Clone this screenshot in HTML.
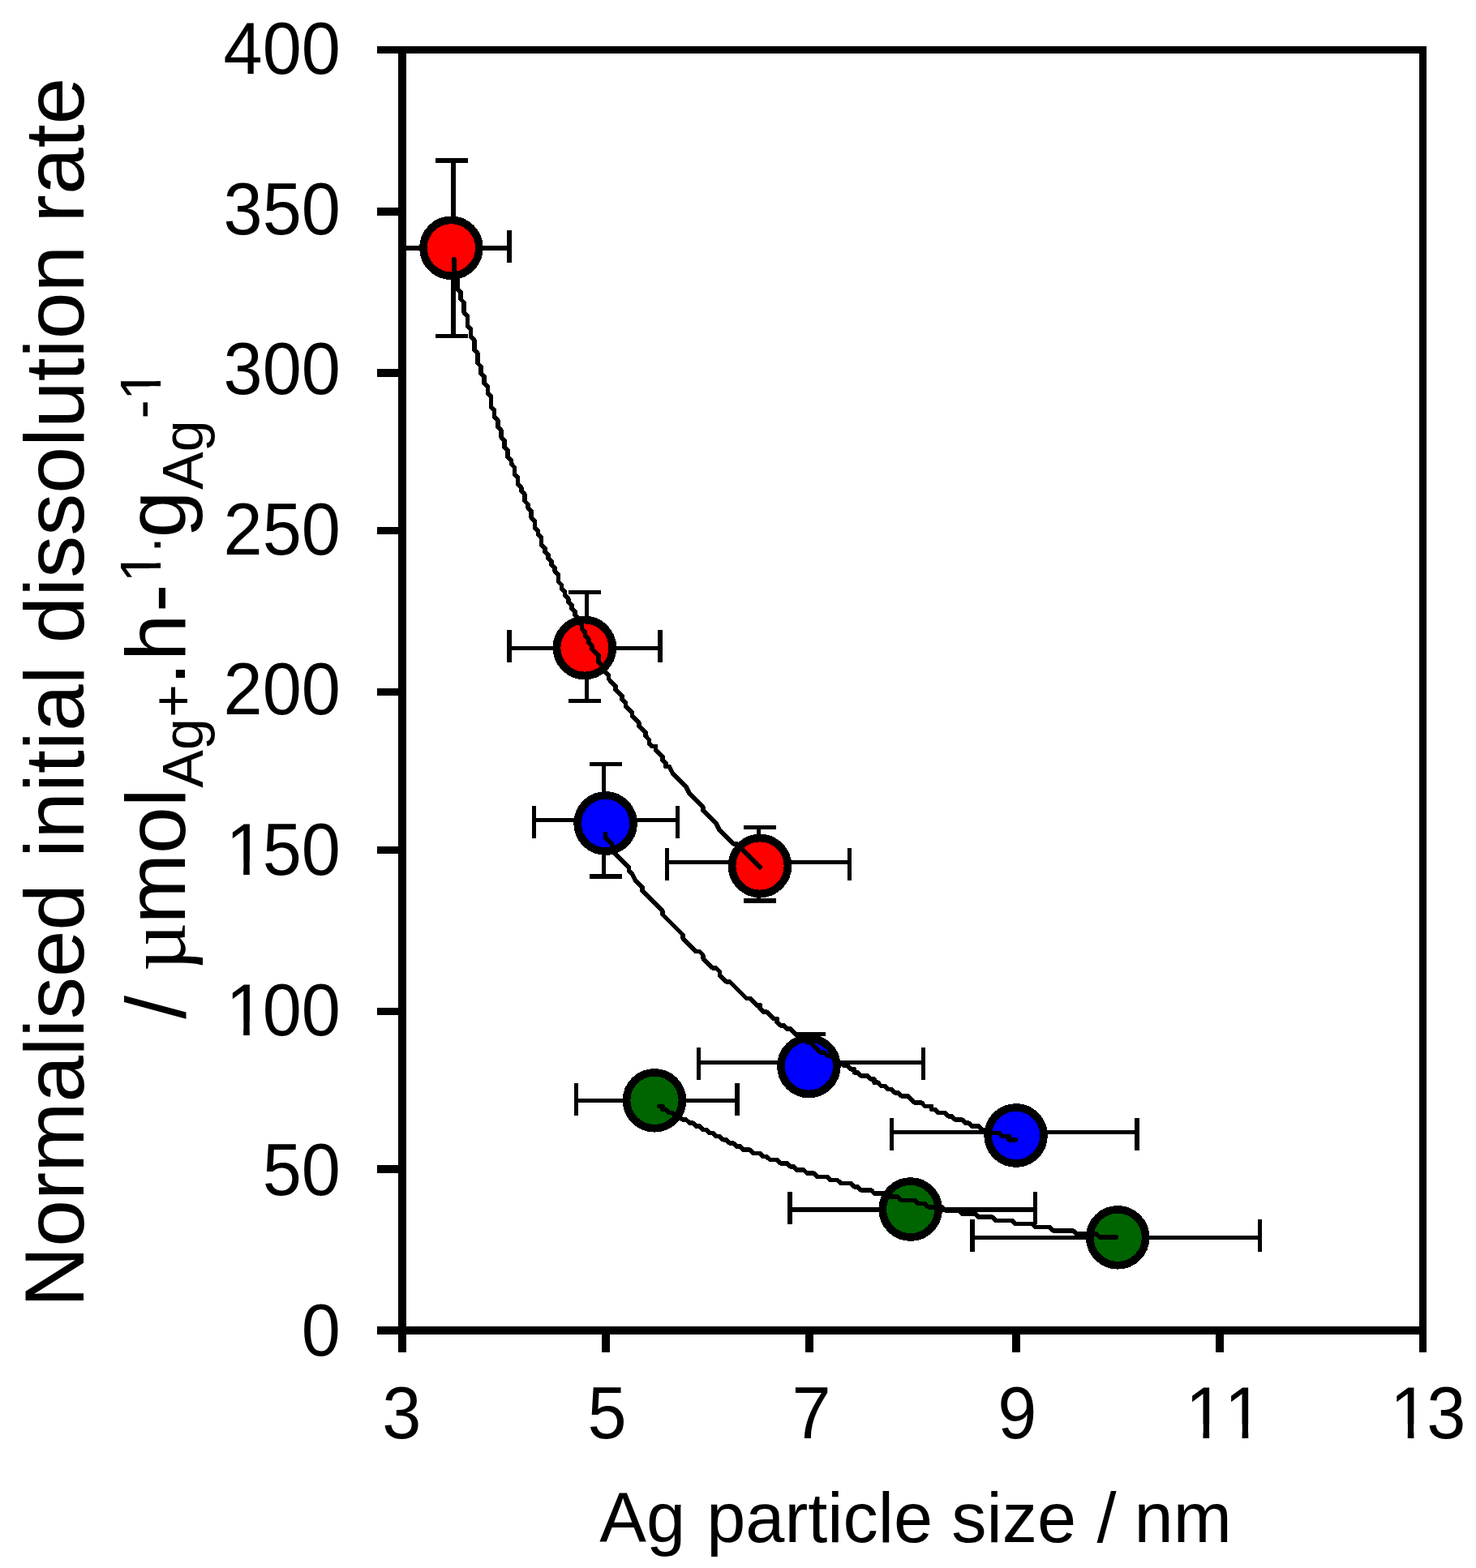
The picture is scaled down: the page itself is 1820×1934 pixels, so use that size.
<!DOCTYPE html>
<html lang="en">
<head>
<meta charset="utf-8">
<title>Normalised initial dissolution rate vs Ag particle size</title>
<style>
html,body{margin:0;padding:0;background:#fff;}
body{width:1820px;height:1934px;overflow:hidden;}
svg{display:block;}
svg{font-family:"Liberation Sans",Arial,Helvetica,sans-serif;}
text{fill:#000;}
</style>
</head>
<body>
<svg width="1820" height="1934" viewBox="0 0 1820 1934">
<defs>
<clipPath id="c1"><path clip-rule="evenodd" d="M-20 -86.5H164.321533203125V34.6H-20ZM8.32 -16.89H24.58V0.84H8.32ZM32.23 -16.89H47.60V0.84H32.23Z"/></clipPath>
<clipPath id="c2"><path clip-rule="evenodd" d="M-20 -86.5H164.321533203125V34.6H-20ZM8.32 -16.89H24.58V0.84H8.32ZM32.23 -16.89H47.60V0.84H32.23Z"/></clipPath>
<clipPath id="c3"><path clip-rule="evenodd" d="M-20 -86.5H116.21435546875V34.6H-20ZM8.32 -16.89H24.58V0.84H8.32ZM32.23 -16.89H47.60V0.84H32.23ZM56.43 -16.89H72.69V0.84H56.43ZM80.33 -16.89H95.71V0.84H80.33Z"/></clipPath>
<clipPath id="c4"><path clip-rule="evenodd" d="M-20 -86.5H116.21435546875V34.6H-20ZM8.32 -16.89H24.58V0.84H8.32ZM32.23 -16.89H47.60V0.84H32.23Z"/></clipPath>
<clipPath id="c5"><path clip-rule="evenodd" d="M-2000 -50H50V500H-2000ZM-713.97 184.33H-700.81V198.68H-713.97ZM-694.62 184.33H-682.18V198.68H-694.62ZM-489.46 184.33H-476.30V198.68H-489.46ZM-470.11 184.33H-457.67V198.68H-470.11Z"/></clipPath>
</defs>
<rect x="0" y="0" width="1820" height="1934" fill="#ffffff"/>
<g id="errorbars" shape-rendering="crispEdges">
<rect x="556" y="195" width="6" height="222" fill="#000"/>
<rect x="537" y="195" width="40" height="6" fill="#000"/>
<rect x="537" y="412" width="40" height="5" fill="#000"/>
<rect x="496" y="303" width="135" height="6" fill="#000"/>
<rect x="625" y="284" width="6" height="40" fill="#000"/>
<rect x="721" y="728" width="5" height="139" fill="#000"/>
<rect x="701" y="728" width="40" height="5" fill="#000"/>
<rect x="701" y="862" width="40" height="5" fill="#000"/>
<rect x="625" y="797" width="192" height="5" fill="#000"/>
<rect x="625" y="777" width="6" height="40" fill="#000"/>
<rect x="811" y="777" width="6" height="40" fill="#000"/>
<rect x="933" y="1018" width="5" height="96" fill="#000"/>
<rect x="917" y="1018" width="40" height="5" fill="#000"/>
<rect x="917" y="1108" width="40" height="6" fill="#000"/>
<rect x="820" y="1061" width="230" height="5" fill="#000"/>
<rect x="820" y="1046" width="5" height="40" fill="#000"/>
<rect x="1045" y="1046" width="5" height="40" fill="#000"/>
<rect x="742" y="940" width="5" height="144" fill="#000"/>
<rect x="727" y="940" width="40" height="5" fill="#000"/>
<rect x="727" y="1078" width="40" height="6" fill="#000"/>
<rect x="656" y="1009" width="182" height="5" fill="#000"/>
<rect x="656" y="994" width="5" height="40" fill="#000"/>
<rect x="833" y="994" width="5" height="40" fill="#000"/>
<rect x="979" y="1273" width="39" height="5" fill="#000"/>
<rect x="859" y="1308" width="282" height="5" fill="#000"/>
<rect x="859" y="1292" width="5" height="40" fill="#000"/>
<rect x="1136" y="1292" width="5" height="40" fill="#000"/>
<rect x="1097" y="1394" width="308" height="5" fill="#000"/>
<rect x="1097" y="1379" width="5" height="40" fill="#000"/>
<rect x="1399" y="1379" width="6" height="40" fill="#000"/>
<rect x="708" y="1355" width="204" height="5" fill="#000"/>
<rect x="708" y="1336" width="5" height="40" fill="#000"/>
<rect x="906" y="1336" width="6" height="40" fill="#000"/>
<rect x="971" y="1489" width="308" height="6" fill="#000"/>
<rect x="971" y="1470" width="6" height="40" fill="#000"/>
<rect x="1274" y="1470" width="5" height="40" fill="#000"/>
<rect x="1196" y="1524" width="360" height="5" fill="#000"/>
<rect x="1196" y="1504" width="6" height="40" fill="#000"/>
<rect x="1551" y="1504" width="5" height="40" fill="#000"/>
</g>
<g id="axes" shape-rendering="crispEdges">
<rect x="491" y="57" width="10" height="1611" fill="#000"/>
<rect x="1750" y="57" width="9" height="1611" fill="#000"/>
<rect x="465" y="57" width="1294" height="9" fill="#000"/>
<rect x="465" y="1636" width="1294" height="10" fill="#000"/>
<rect x="465" y="256" width="31" height="10" fill="#000"/>
<rect x="465" y="455" width="31" height="10" fill="#000"/>
<rect x="465" y="650" width="31" height="9" fill="#000"/>
<rect x="465" y="849" width="31" height="9" fill="#000"/>
<rect x="465" y="1044" width="31" height="9" fill="#000"/>
<rect x="465" y="1243" width="31" height="9" fill="#000"/>
<rect x="465" y="1437" width="31" height="10" fill="#000"/>
<rect x="742" y="1640" width="10" height="28" fill="#000"/>
<rect x="993" y="1640" width="10" height="28" fill="#000"/>
<rect x="1248" y="1640" width="10" height="28" fill="#000"/>
<rect x="1499" y="1640" width="10" height="28" fill="#000"/>
</g>
<g id="markers" stroke="#000" stroke-width="9.7" shape-rendering="crispEdges">
<circle cx="556.4" cy="305.8" r="34.45" fill="#ff0000"/>
<circle cx="720.9" cy="799" r="34.45" fill="#ff0000"/>
<circle cx="937" cy="1068" r="34.45" fill="#ff0000"/>
<circle cx="746.6" cy="1015.5" r="34.45" fill="#0000ff"/>
<circle cx="997.4" cy="1315" r="34.45" fill="#0000ff"/>
<circle cx="1252.6" cy="1400.5" r="34.45" fill="#0000ff"/>
<circle cx="807" cy="1357.3" r="34.45" fill="#006400"/>
<circle cx="1122.7" cy="1491.5" r="34.45" fill="#006400"/>
<circle cx="1378.2" cy="1526.3" r="34.45" fill="#006400"/>
</g>
<g id="trend" shape-rendering="crispEdges" fill="none" stroke="#000" stroke-width="5.6" stroke-linecap="round" stroke-linejoin="round">
<path d="M559.8 319.3 L559.8 323.4 L559.8 327.6 L559.8 331.7 L559.8 335.9 L559.8 340.0 L564.0 344.2 L564.0 348.3 L564.0 352.5 L564.0 356.6 L568.1 360.8 L568.1 364.9 L568.1 369.1 L572.2 373.2 L572.2 377.3 L572.2 381.5 L572.2 385.6 L576.4 389.8 L576.4 393.9 L576.4 398.1 L576.4 402.2 L580.5 406.4 L580.5 410.5 L580.5 414.7 L584.7 418.8 L584.7 423.0 L584.7 427.1 L584.7 431.3 L588.8 435.4 L588.8 439.6 L588.8 443.7 L588.8 447.8 L593.0 452.0 L593.0 456.1 L593.0 460.3 L597.1 464.4 L597.1 468.6 L597.1 472.7 L601.3 476.9 L601.3 481.0 L601.3 485.2 L605.4 489.3 L605.4 493.5 L605.4 497.6 L605.4 501.8 L609.6 505.9 L609.6 510.0 L609.6 514.2 L613.7 518.3 L613.7 522.5 L613.7 526.6 L617.9 530.8 L617.9 534.9 L617.9 539.1 L622.0 543.2 L622.0 547.4 L622.0 551.5 L626.2 555.7 L626.2 559.8 L626.2 564.0 L630.3 568.1 L630.3 572.2 L634.4 576.4 L634.4 580.5 L634.4 584.7 L638.6 588.8 L638.6 593.0 L638.6 597.1 L642.7 601.3 L642.7 605.4 L646.9 609.6 L646.9 613.7 L646.9 617.9 L651.0 622.0 L651.0 626.2 L655.2 630.3 L655.2 634.4 L655.2 638.6 L659.3 642.7 L659.3 646.9 L659.3 651.0 L663.5 655.2 L663.5 659.3 L667.6 663.5 L667.6 667.6 L667.6 671.8 L671.8 675.9 L671.8 680.1 L675.9 684.2 L675.9 688.4 L680.1 692.5 L680.1 696.6 L684.2 700.8 L684.2 704.9 L688.4 709.1 L688.4 713.2 L688.4 717.4 L692.5 721.5 L692.5 725.7 L696.6 729.8 L696.6 734.0 L700.8 738.1 L700.8 742.3 L704.9 746.4 L704.9 750.6 L709.1 754.7 L709.1 758.8 L713.2 763.0 L713.2 767.1 L717.4 771.3 L717.4 775.4 L721.5 779.6 L721.5 783.7 L725.7 787.9 L725.7 792.0 L729.8 796.2 L729.8 800.3 L734.0 804.5 L738.1 808.6 L738.1 816.9 L742.3 821.0 L746.4 825.2 L746.4 829.3 L750.6 833.5 L750.6 837.6 L754.7 841.8 L758.8 845.9 L758.8 850.1 L763.0 854.2 L767.1 858.4 L767.1 862.5 L771.3 866.7 L771.3 870.8 L775.4 875.0 L779.6 879.1 L779.6 883.2 L783.7 887.4 L787.9 891.5 L787.9 895.7 L792.0 899.8 L796.2 904.0 L796.2 908.1 L800.3 912.3 L800.3 916.4 L804.5 920.6 L808.6 920.6 L808.6 924.7 L812.8 928.9 L816.9 933.0 L816.9 937.2 L821.0 941.3 L821.0 945.4 L825.2 945.4 L829.3 953.7 L833.5 957.9 L837.6 962.0 L841.8 966.2 L845.9 970.3 L850.1 978.6 L854.2 982.8 L858.4 986.9 L862.5 991.1 L866.7 995.2 L866.7 999.4 L870.8 1003.5 L875.0 1007.6 L879.1 1011.8 L883.2 1015.9 L887.4 1024.2 L891.5 1028.4 L895.7 1032.5 L899.8 1036.7 L904.0 1040.8 L908.1 1040.8 L912.3 1045.0 L916.4 1049.1 L920.6 1053.3 L924.7 1057.4 L928.9 1061.6 L933.0 1065.7 L937.2 1069.8"/>
<path d="M746.4 1028.4 L746.4 1032.5 L750.6 1036.7 L754.7 1040.8 L754.7 1045.0 L758.8 1049.1 L758.8 1053.3 L763.0 1057.4 L767.1 1061.6 L771.3 1065.7 L775.4 1069.8 L775.4 1074.0 L779.6 1078.1 L783.7 1086.4 L787.9 1090.6 L792.0 1094.7 L792.0 1098.9 L796.2 1103.0 L800.3 1107.2 L804.5 1111.3 L808.6 1115.5 L812.8 1119.6 L816.9 1123.8 L816.9 1127.9 L821.0 1132.0 L825.2 1136.2 L829.3 1140.3 L833.5 1144.5 L837.6 1148.6 L841.8 1152.8 L841.8 1156.9 L845.9 1161.1 L850.1 1165.2 L854.2 1169.4 L858.4 1173.5 L862.5 1173.5 L866.7 1177.7 L866.7 1181.8 L870.8 1186.0 L875.0 1190.1 L879.1 1194.2 L883.2 1194.2 L887.4 1198.4 L887.4 1202.5 L891.5 1206.7 L895.7 1210.8 L899.8 1210.8 L904.0 1215.0 L908.1 1219.1 L912.3 1223.3 L916.4 1227.4 L920.6 1231.6 L924.7 1231.6 L928.9 1235.7 L933.0 1239.9 L937.2 1239.9 L937.2 1244.0 L941.3 1248.2 L945.4 1248.2 L949.6 1252.3 L953.7 1256.5 L957.9 1256.5 L957.9 1260.6 L962.0 1264.7 L966.2 1264.7 L970.3 1268.9 L974.5 1268.9 L978.6 1273.0 L982.8 1277.2 L986.9 1281.3 L991.1 1281.3 L995.2 1285.5 L999.4 1285.5 L1003.5 1289.6 L1007.6 1293.8 L1011.8 1297.9 L1015.9 1297.9 L1020.1 1302.1 L1024.2 1302.1 L1028.4 1306.2 L1032.5 1310.4 L1036.7 1310.4 L1040.8 1314.5 L1045.0 1314.5 L1049.1 1318.7 L1053.3 1318.7 L1053.3 1322.8 L1057.4 1322.8 L1061.6 1326.9 L1065.7 1326.9 L1069.8 1326.9 L1074.0 1331.1 L1078.1 1331.1 L1078.1 1335.2 L1082.3 1335.2 L1086.4 1339.4 L1090.6 1339.4 L1094.7 1343.5 L1098.9 1343.5 L1103.0 1347.7 L1107.2 1347.7 L1111.3 1351.8 L1115.5 1351.8 L1119.6 1351.8 L1123.8 1356.0 L1127.9 1360.1 L1132.0 1360.1 L1136.2 1360.1 L1140.3 1364.3 L1144.5 1364.3 L1148.6 1364.3 L1148.6 1368.4 L1152.8 1368.4 L1156.9 1372.6 L1161.1 1372.6 L1165.2 1372.6 L1169.4 1376.7 L1173.5 1376.7 L1177.7 1380.9 L1181.8 1380.9 L1186.0 1380.9 L1190.1 1385.0 L1194.2 1385.0 L1198.4 1389.1 L1202.5 1389.1 L1206.7 1389.1 L1210.8 1393.3 L1215.0 1393.3 L1219.1 1393.3 L1223.3 1397.4 L1227.4 1397.4 L1231.6 1397.4 L1235.7 1401.6 L1239.9 1401.6 L1244.0 1401.6 L1244.0 1405.7 L1248.2 1405.7 L1252.3 1405.7"/>
<path d="M812.8 1364.3 L816.9 1364.3 L816.9 1368.4 L821.0 1368.4 L825.2 1372.6 L829.3 1372.6 L833.5 1376.7 L837.6 1376.7 L841.8 1380.9 L845.9 1380.9 L850.1 1385.0 L854.2 1385.0 L858.4 1389.1 L862.5 1389.1 L866.7 1393.3 L870.8 1393.3 L875.0 1397.4 L879.1 1397.4 L883.2 1401.6 L887.4 1401.6 L891.5 1405.7 L895.7 1405.7 L899.8 1409.9 L904.0 1409.9 L908.1 1414.0 L912.3 1414.0 L916.4 1418.2 L920.6 1418.2 L924.7 1418.2 L928.9 1422.3 L933.0 1422.3 L937.2 1422.3 L941.3 1426.5 L945.4 1426.5 L949.6 1430.6 L953.7 1430.6 L957.9 1430.6 L962.0 1434.8 L966.2 1434.8 L970.3 1434.8 L974.5 1438.9 L978.6 1438.9 L982.8 1443.1 L986.9 1443.1 L991.1 1443.1 L995.2 1447.2 L999.4 1447.2 L1003.5 1447.2 L1007.6 1451.3 L1011.8 1451.3 L1015.9 1451.3 L1020.1 1451.3 L1024.2 1455.5 L1028.4 1455.5 L1032.5 1455.5 L1036.7 1459.6 L1040.8 1459.6 L1045.0 1459.6 L1049.1 1459.6 L1053.3 1463.8 L1057.4 1463.8 L1061.6 1467.9 L1065.7 1467.9 L1069.8 1467.9 L1074.0 1467.9 L1078.1 1472.1 L1082.3 1472.1 L1086.4 1472.1 L1090.6 1472.1 L1094.7 1476.2 L1098.9 1476.2 L1103.0 1476.2 L1107.2 1476.2 L1111.3 1480.4 L1115.5 1480.4 L1119.6 1480.4 L1123.8 1480.4 L1127.9 1480.4 L1132.0 1484.5 L1136.2 1484.5 L1140.3 1484.5 L1144.5 1488.7 L1148.6 1488.7 L1152.8 1488.7 L1156.9 1488.7 L1161.1 1488.7 L1165.2 1492.8 L1169.4 1492.8 L1173.5 1492.8 L1177.7 1492.8 L1181.8 1492.8 L1186.0 1497.0 L1190.1 1497.0 L1194.2 1497.0 L1198.4 1497.0 L1202.5 1497.0 L1206.7 1501.1 L1210.8 1501.1 L1215.0 1501.1 L1219.1 1501.1 L1223.3 1501.1 L1227.4 1505.3 L1231.6 1505.3 L1235.7 1505.3 L1239.9 1505.3 L1244.0 1505.3 L1248.2 1505.3 L1252.3 1509.4 L1256.5 1509.4 L1260.6 1509.4 L1264.7 1509.4 L1268.9 1509.4 L1273.0 1509.4 L1277.2 1513.5 L1281.3 1513.5 L1285.5 1513.5 L1289.6 1513.5 L1293.8 1513.5 L1297.9 1517.7 L1302.1 1517.7 L1306.2 1517.7 L1310.4 1517.7 L1314.5 1517.7 L1318.7 1517.7 L1322.8 1517.7 L1326.9 1521.8 L1331.1 1521.8 L1335.2 1521.8 L1339.4 1521.8 L1343.5 1521.8 L1347.7 1521.8 L1351.8 1521.8 L1356.0 1526.0 L1360.1 1526.0 L1364.3 1526.0 L1368.4 1526.0 L1372.6 1526.0 L1376.7 1526.0"/>
</g>
<g id="ytick-labels">
<g transform="translate(275.58 91.00) scale(1 1.04)"><text x="0.00 48.11 96.21" y="0" font-size="86.5">400</text></g>
<g transform="translate(275.58 288.60) scale(1 1.04)"><text x="0.00 48.11 96.21" y="0" font-size="86.5">350</text></g>
<g transform="translate(275.58 486.20) scale(1 1.04)"><text x="0.00 48.11 96.21" y="0" font-size="86.5">300</text></g>
<g transform="translate(275.58 683.80) scale(1 1.04)"><text x="0.00 48.11 96.21" y="0" font-size="86.5">250</text></g>
<g transform="translate(275.58 881.40) scale(1 1.04)"><text x="0.00 48.11 96.21" y="0" font-size="86.5">200</text></g>
<g transform="translate(275.58 1079.00) scale(1 1.04)" clip-path="url(#c1)"><text x="2.83 48.11 96.21" y="0" font-size="86.5">150</text></g>
<g transform="translate(275.58 1276.60) scale(1 1.04)" clip-path="url(#c2)"><text x="2.83 48.11 96.21" y="0" font-size="86.5">100</text></g>
<g transform="translate(323.69 1474.20) scale(1 1.04)"><text x="0.00 48.11" y="0" font-size="86.5">50</text></g>
<g transform="translate(371.79 1671.80) scale(1 1.04)"><text x="0.00" y="0" font-size="86.5">0</text></g>
</g>
<g id="xtick-labels">
<g transform="translate(471.15 1774.20) scale(1 1.04)"><text x="0.00" y="0" font-size="86.5">3</text></g>
<g transform="translate(724.55 1774.20) scale(1 1.04)"><text x="0.00" y="0" font-size="86.5">5</text></g>
<g transform="translate(976.55 1774.20) scale(1 1.04)"><text x="0.00" y="0" font-size="86.5">7</text></g>
<g transform="translate(1230.15 1774.20) scale(1 1.04)"><text x="0.00" y="0" font-size="86.5">9</text></g>
<g transform="translate(1458.89 1774.20) scale(1 1.04)" clip-path="url(#c3)"><text x="2.83 50.94" y="0" font-size="86.5">11</text></g>
<g transform="translate(1711.19 1774.20) scale(1 1.04)" clip-path="url(#c4)"><text x="2.83 48.11" y="0" font-size="86.5">13</text></g>
</g>
<text id="xtitle" y="1901.8" font-size="86.5"><tspan x="739.2">Ag </tspan><tspan x="871.2">particle </tspan><tspan x="1173.2">size </tspan><tspan x="1352.4">/ </tspan><tspan x="1398.6">nm</tspan></text>
<text id="ytitle-1" transform="rotate(-90)" y="103.0" font-size="103.85"><tspan x="-1612.5" letter-spacing="-0.3">Normalised </tspan><tspan x="-1057.9">initial </tspan><tspan x="-793.5">dissolution </tspan><tspan x="-274.7">rate</tspan></text>
<g transform="rotate(-90)" clip-path="url(#c5)"><text id="ytitle-2" font-size="103.85"><tspan x="-1256.80" y="228.0">/ </tspan><tspan x="-1198.00" y="228.0" font-family="Liberation Serif, serif">µ</tspan><tspan x="-1139.40" y="228.0">mol</tspan><tspan x="-971.80" y="250.0" font-size="70.0">Ag</tspan><tspan x="-885.10" y="236.8" font-size="70.0">+</tspan><tspan x="-845.40" y="228.0">.</tspan><tspan x="-815.20" y="228.0">h</tspan><tspan x="-755.00" y="228.0">-</tspan><tspan x="-718.41" y="198.0" font-size="70.0">1</tspan><tspan x="-681.77" y="198.0" font-size="70.0">.</tspan><tspan x="-663.30" y="228.0">g</tspan><tspan x="-604.00" y="250.0" font-size="70.0">Ag</tspan><tspan x="-516.50" y="198.0" font-size="70.0">-</tspan><tspan x="-493.90" y="198.0" font-size="70.0">1</tspan></text></g>
</svg>
</body>
</html>
